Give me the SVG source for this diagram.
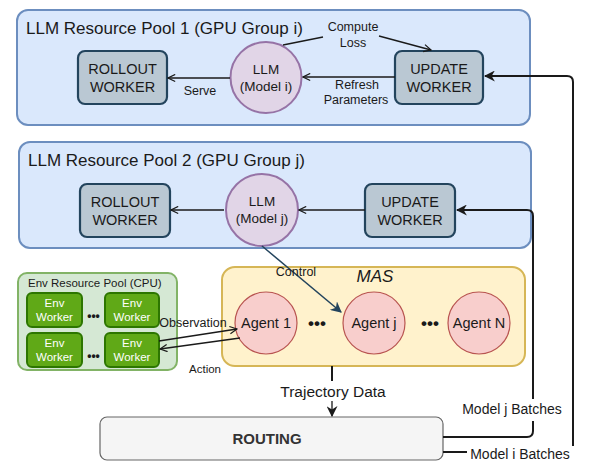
<svg xmlns="http://www.w3.org/2000/svg" width="597" height="471" viewBox="0 0 597 471">
<style>
text{font-family:"Liberation Sans",Arial,sans-serif;fill:#1a1a1a}
.pool{fill:#dae8fc;stroke:#6c8ebf;stroke-width:2}
.wk{fill:#bac8d3;stroke:#23445d;stroke-width:2.2}
.llm{fill:#e1d5e7;stroke:#9673a6;stroke-width:2}
.ag{fill:#f8cecc;stroke:#b85450;stroke-width:1.2}
.env{fill:#60a917;stroke:#2d7600;stroke-width:2}
.t{font-size:17px}
.w{font-size:14.5px;text-anchor:middle}
.m{font-size:13.5px;text-anchor:middle}
.l{font-size:12.5px;text-anchor:middle}
.e{font-size:11.5px;text-anchor:middle;fill:#ffffff}
.ln{fill:none;stroke:#1a1a1a;stroke-width:1.3}
.lb{fill:none;stroke:#1a1a1a;stroke-width:2}
</style>
<defs>
<marker id="open" viewBox="0 0 10 10" refX="9" refY="5" markerWidth="9" markerHeight="9" markerUnits="userSpaceOnUse" orient="auto">
<path d="M1,1 L9,5 L1,9" fill="none" stroke="#1a1a1a" stroke-width="1.3"/>
</marker>
<marker id="blk" viewBox="0 0 10 10" refX="9" refY="5" markerWidth="11" markerHeight="11" markerUnits="userSpaceOnUse" orient="auto">
<path d="M0,0 L10,5 L0,10 L3,5 z" fill="#1a1a1a"/>
</marker>
<marker id="blkd" viewBox="0 0 10 10" refX="9" refY="5" markerWidth="11" markerHeight="11" markerUnits="userSpaceOnUse" orient="auto">
<path d="M0,0 L10,5 L0,10 L3,5 z" fill="#23445d"/>
</marker>
</defs>
<rect width="597" height="471" fill="#ffffff"/>

<g id="pool1">
<rect class="pool" x="17" y="10" width="513" height="115" rx="11"/>
<text class="t" x="26" y="34">LLM Resource Pool 1 (GPU Group i)</text>
</g>
<g id="rollout1">
<rect class="wk" x="78" y="51" width="89" height="53" rx="7"/>
<text class="w" x="122.5" y="74">ROLLOUT</text>
<text class="w" x="122.5" y="92">WORKER</text>
</g>
<g id="llm1">
<circle class="llm" cx="266" cy="77.5" r="35.5"/>
<text class="m" x="266" y="74">LLM</text>
<text class="m" x="266" y="91">(Model i)</text>
</g>
<g id="update1">
<rect class="wk" x="395" y="51" width="88" height="53" rx="7"/>
<text class="w" x="439" y="74">UPDATE</text>
<text class="w" x="439" y="92">WORKER</text>
</g>

<g id="pool2">
<rect class="pool" x="19" y="142" width="512" height="106" rx="11"/>
<text class="t" x="28" y="166">LLM Resource Pool 2 (GPU Group j)</text>
</g>
<g id="rollout2">
<rect class="wk" x="80" y="184" width="90" height="53" rx="7"/>
<text class="w" x="125" y="207">ROLLOUT</text>
<text class="w" x="125" y="225">WORKER</text>
</g>
<g id="llm2">
<circle class="llm" cx="262" cy="210" r="36"/>
<text class="m" x="262" y="206">LLM</text>
<text class="m" x="262" y="223">(Model j)</text>
</g>
<g id="update2">
<rect class="wk" x="365" y="184" width="90" height="53" rx="7"/>
<text class="w" x="410" y="207">UPDATE</text>
<text class="w" x="410" y="225">WORKER</text>
</g>

<g id="envpool">
<rect x="18" y="273" width="159" height="97" rx="9" fill="#d5e8d4" stroke="#82b366" stroke-width="2"/>
<text x="28" y="287" style="font-size:11.5px">Env Resource Pool (CPU)</text>
</g>
<g id="env1">
<rect class="env" x="27" y="293" width="55" height="34" rx="5"/>
<text class="e" x="54.5" y="307">Env</text>
<text class="e" x="54.5" y="321">Worker</text>
</g>
<g id="env2">
<rect class="env" x="105" y="293" width="54" height="34" rx="5"/>
<text class="e" x="132" y="307">Env</text>
<text class="e" x="132" y="321">Worker</text>
</g>
<g id="env3">
<rect class="env" x="27" y="333" width="55" height="34" rx="5"/>
<text class="e" x="54.5" y="347">Env</text>
<text class="e" x="54.5" y="361">Worker</text>
</g>
<g id="env4">
<rect class="env" x="105" y="333" width="54" height="34" rx="5"/>
<text class="e" x="132" y="347">Env</text>
<text class="e" x="132" y="361">Worker</text>
</g>
<g id="envdots">
<text x="93.5" y="320" style="font-size:12px;text-anchor:middle;font-weight:bold">•••</text>
<text x="93.5" y="360" style="font-size:12px;text-anchor:middle;font-weight:bold">•••</text>
</g>

<g id="mas">
<rect x="222" y="267" width="303" height="99" rx="13" fill="#fff2cc" stroke="#d6b656" stroke-width="2"/>
<text x="375" y="282" style="font-size:17px;font-style:italic;text-anchor:middle">MAS</text>
</g>
<g id="agent1">
<circle class="ag" cx="266" cy="323" r="31"/>
<text class="m" x="266" y="328" style="font-size:14.5px">Agent 1</text>
</g>
<g id="agentj">
<circle class="ag" cx="374" cy="323" r="31"/>
<text class="m" x="374" y="328" style="font-size:14.5px">Agent j</text>
</g>
<g id="agentN">
<circle class="ag" cx="479" cy="323" r="31"/>
<text class="m" x="479" y="328" style="font-size:14.5px">Agent N</text>
</g>
<g id="masdots">
<text x="317" y="329" style="font-size:17px;text-anchor:middle;font-weight:bold">•••</text>
<text x="430" y="329" style="font-size:17px;text-anchor:middle;font-weight:bold">•••</text>
</g>

<g id="routing">
<rect x="100" y="417" width="343" height="43" rx="7" fill="#f5f5f5" stroke="#666666" stroke-width="1.2"/>
<text x="267" y="444" style="font-size:15px;font-weight:bold;text-anchor:middle;fill:#333333">ROUTING</text>
</g>

<g id="connectors">
<line class="ln" x1="230" y1="78" x2="168" y2="78" marker-end="url(#open)"/>
<text class="l" x="200" y="95">Serve</text>
<line class="ln" x1="395" y1="77" x2="303" y2="77" marker-end="url(#open)"/>
<text class="l" x="357" y="89">Refresh</text>
<text class="l" x="356" y="104">Parameters</text>
<path class="ln" d="M283,45 L323,37"/>
<path class="ln" d="M379,36 L431,50" marker-end="url(#open)"/>
<text class="l" x="353" y="31">Compute</text>
<text class="l" x="353" y="47">Loss</text>

<line class="ln" x1="224" y1="210" x2="171" y2="210" marker-end="url(#open)"/>
<line class="ln" x1="365" y1="210" x2="299" y2="210" marker-end="url(#open)"/>

<path d="M262,246 L341,312" fill="none" stroke="#23445d" stroke-width="1.5" marker-end="url(#blkd)"/>
<text class="l" x="296" y="276">Control</text>

<line class="ln" x1="159" y1="341" x2="237" y2="329" marker-end="url(#open)"/>
<line class="ln" x1="240" y1="338" x2="160" y2="349" marker-end="url(#open)"/>
<text class="l" x="193" y="327">Observation</text>
<text x="205" y="373" style="font-size:11.5px;text-anchor:middle">Action</text>

<line class="lb" x1="332" y1="366" x2="332" y2="381"/>
<text x="333" y="397" style="font-size:15.5px;text-anchor:middle">Trajectory Data</text>
<line class="ln" x1="332" y1="401" x2="332" y2="416" stroke-width="1.6" marker-end="url(#blk)"/>

<path class="lb" d="M443,437 L527,437 Q533,437 533,431 L533,421"/>
<path class="lb" d="M533,399 L533,216 Q533,210 527,210 L457,210" marker-end="url(#blk)"/>
<text x="512" y="414" style="font-size:14px;text-anchor:middle">Model j Batches</text>

<path class="lb" d="M443,452 L467,452"/>
<path class="lb" d="M573,446 L573,82 Q573,76 567,76 L485,76" marker-end="url(#blk)"/>
<text x="520" y="459" style="font-size:14px;text-anchor:middle">Model i Batches</text>
</g>
</svg>
